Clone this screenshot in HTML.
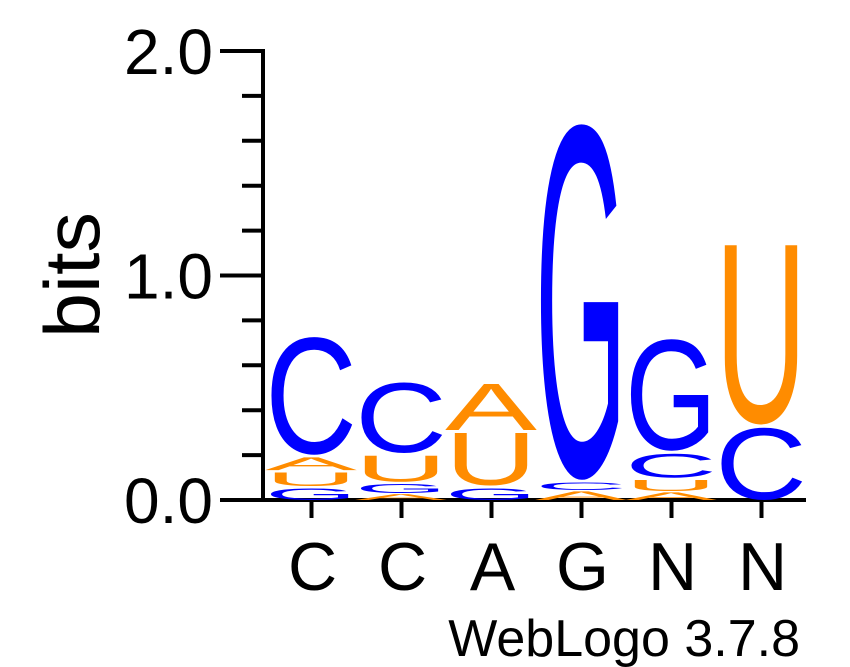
<!DOCTYPE html>
<html><head><meta charset="utf-8"><style>
html,body{margin:0;padding:0;background:#fff;}
svg{display:block;font-family:"Liberation Sans",Arial,sans-serif;}
</style></head><body>
<svg id="chart" width="850" height="667" viewBox="0 0 850 667" xmlns="http://www.w3.org/2000/svg">
<g id="axes"></g>
<g id="letters"></g>
<text transform="translate(99,275) rotate(-90)" text-anchor="middle" font-size="78" textLength="126" lengthAdjust="spacingAndGlyphs">bits</text>
<text x="800" y="656" text-anchor="end" font-size="52">WebLogo 3.7.8</text>
</svg>
<script>
// data
const positionLabels = ["C","C","A","G","N","N"];
const yTickLabels = ["0.0","1.0","2.0"];
const yTickValues = [0,1,2];
// stacks bottom->top: letters and heights in bits
const stackLetters = [
  ["G","U","A","C"],
  ["A","G","U","C"],
  ["G","U","A"],
  ["A","C","G"],
  ["A","U","C","G"],
  ["C","U"]
];
const stackHeights = [
  [0.062,0.071,0.067,0.535],
  [0.031,0.049,0.129,0.325],
  [0.062,0.25,0.218],
  [0.045,0.04,1.59],
  [0.04,0.058,0.12,0.508],
  [0.334,0.82]
];
const colors = {A:"#ff8c00",U:"#ff8c00",C:"#0000ff",G:"#0000ff"};

const NS="http://www.w3.org/2000/svg";
const y0=500, pxPerBit=224.5;
const y = b => y0 - b*pxPerBit;
const letterX = i => 311 + 90*i;
const tickX = i => 311.5 + 90*i;

const axes=document.getElementById('axes');
function mk(tag,attrs,parent){const e=document.createElementNS(NS,tag);for(const k in attrs)e.setAttribute(k,attrs[k]);parent.appendChild(e);return e;}

// y axis
let yl=mk('line',{x1:263,y1:y(2)-2,x2:263,y2:y0+2,stroke:'#000','stroke-width':4},axes);


for(let t=0;t<=10;t++){
  const b=t*0.2, major=(t%5===0);
  const tl=mk('line',{x1:major?220:242,y1:y(b),x2:263,y2:y(b),stroke:'#000','stroke-width':4},axes);
  
  
}
yTickValues.forEach((v,i)=>{
  const tx=mk('text',{x:213,y:y(v)+23,'text-anchor':'end','font-size':64},axes);
  tx.textContent=yTickLabels[i];
  
  
});
// x axis
let xl=mk('line',{x1:261,y1:y0,x2:806,y2:y0,stroke:'#000','stroke-width':4},axes);


positionLabels.forEach((l,i)=>{
  const t=mk('line',{x1:tickX(i),y1:y0,x2:tickX(i),y2:518,stroke:'#000','stroke-width':4},axes);
  
  
  const tx=mk('text',{x:tickX(i)+1,y:590,'text-anchor':'middle','font-size':68},axes);
  tx.textContent=l;
  
  
});

// letters
const lg=document.getElementById('letters');
stackLetters.forEach((col,i)=>{
  let base=0;
  const g=mk('g',{},lg);
  
  
  col.forEach((L,j)=>{
    const h=stackHeights[i][j];
    const bot=y(base), top=y(base+h);
    const hp=bot-top;
    const pad=Math.min(3,hp*0.15);
    const ink=hp-pad;
    const round=(L==='C'||L==='G'||L==='U');
    const capH= round?70.5:68.8;
    const sy=ink/capH;
    const off= round?1.2*sy:0;
    const t=mk('text',{x:letterX(i)-46,y:0,'font-size':100,textLength:92,lengthAdjust:'spacingAndGlyphs',fill:colors[L],
      transform:`translate(0,${bot-off}) scale(1,${sy})`},g);
    t.textContent=L;
    
    
    base+=h;
  });
});
</script>
</body></html>
